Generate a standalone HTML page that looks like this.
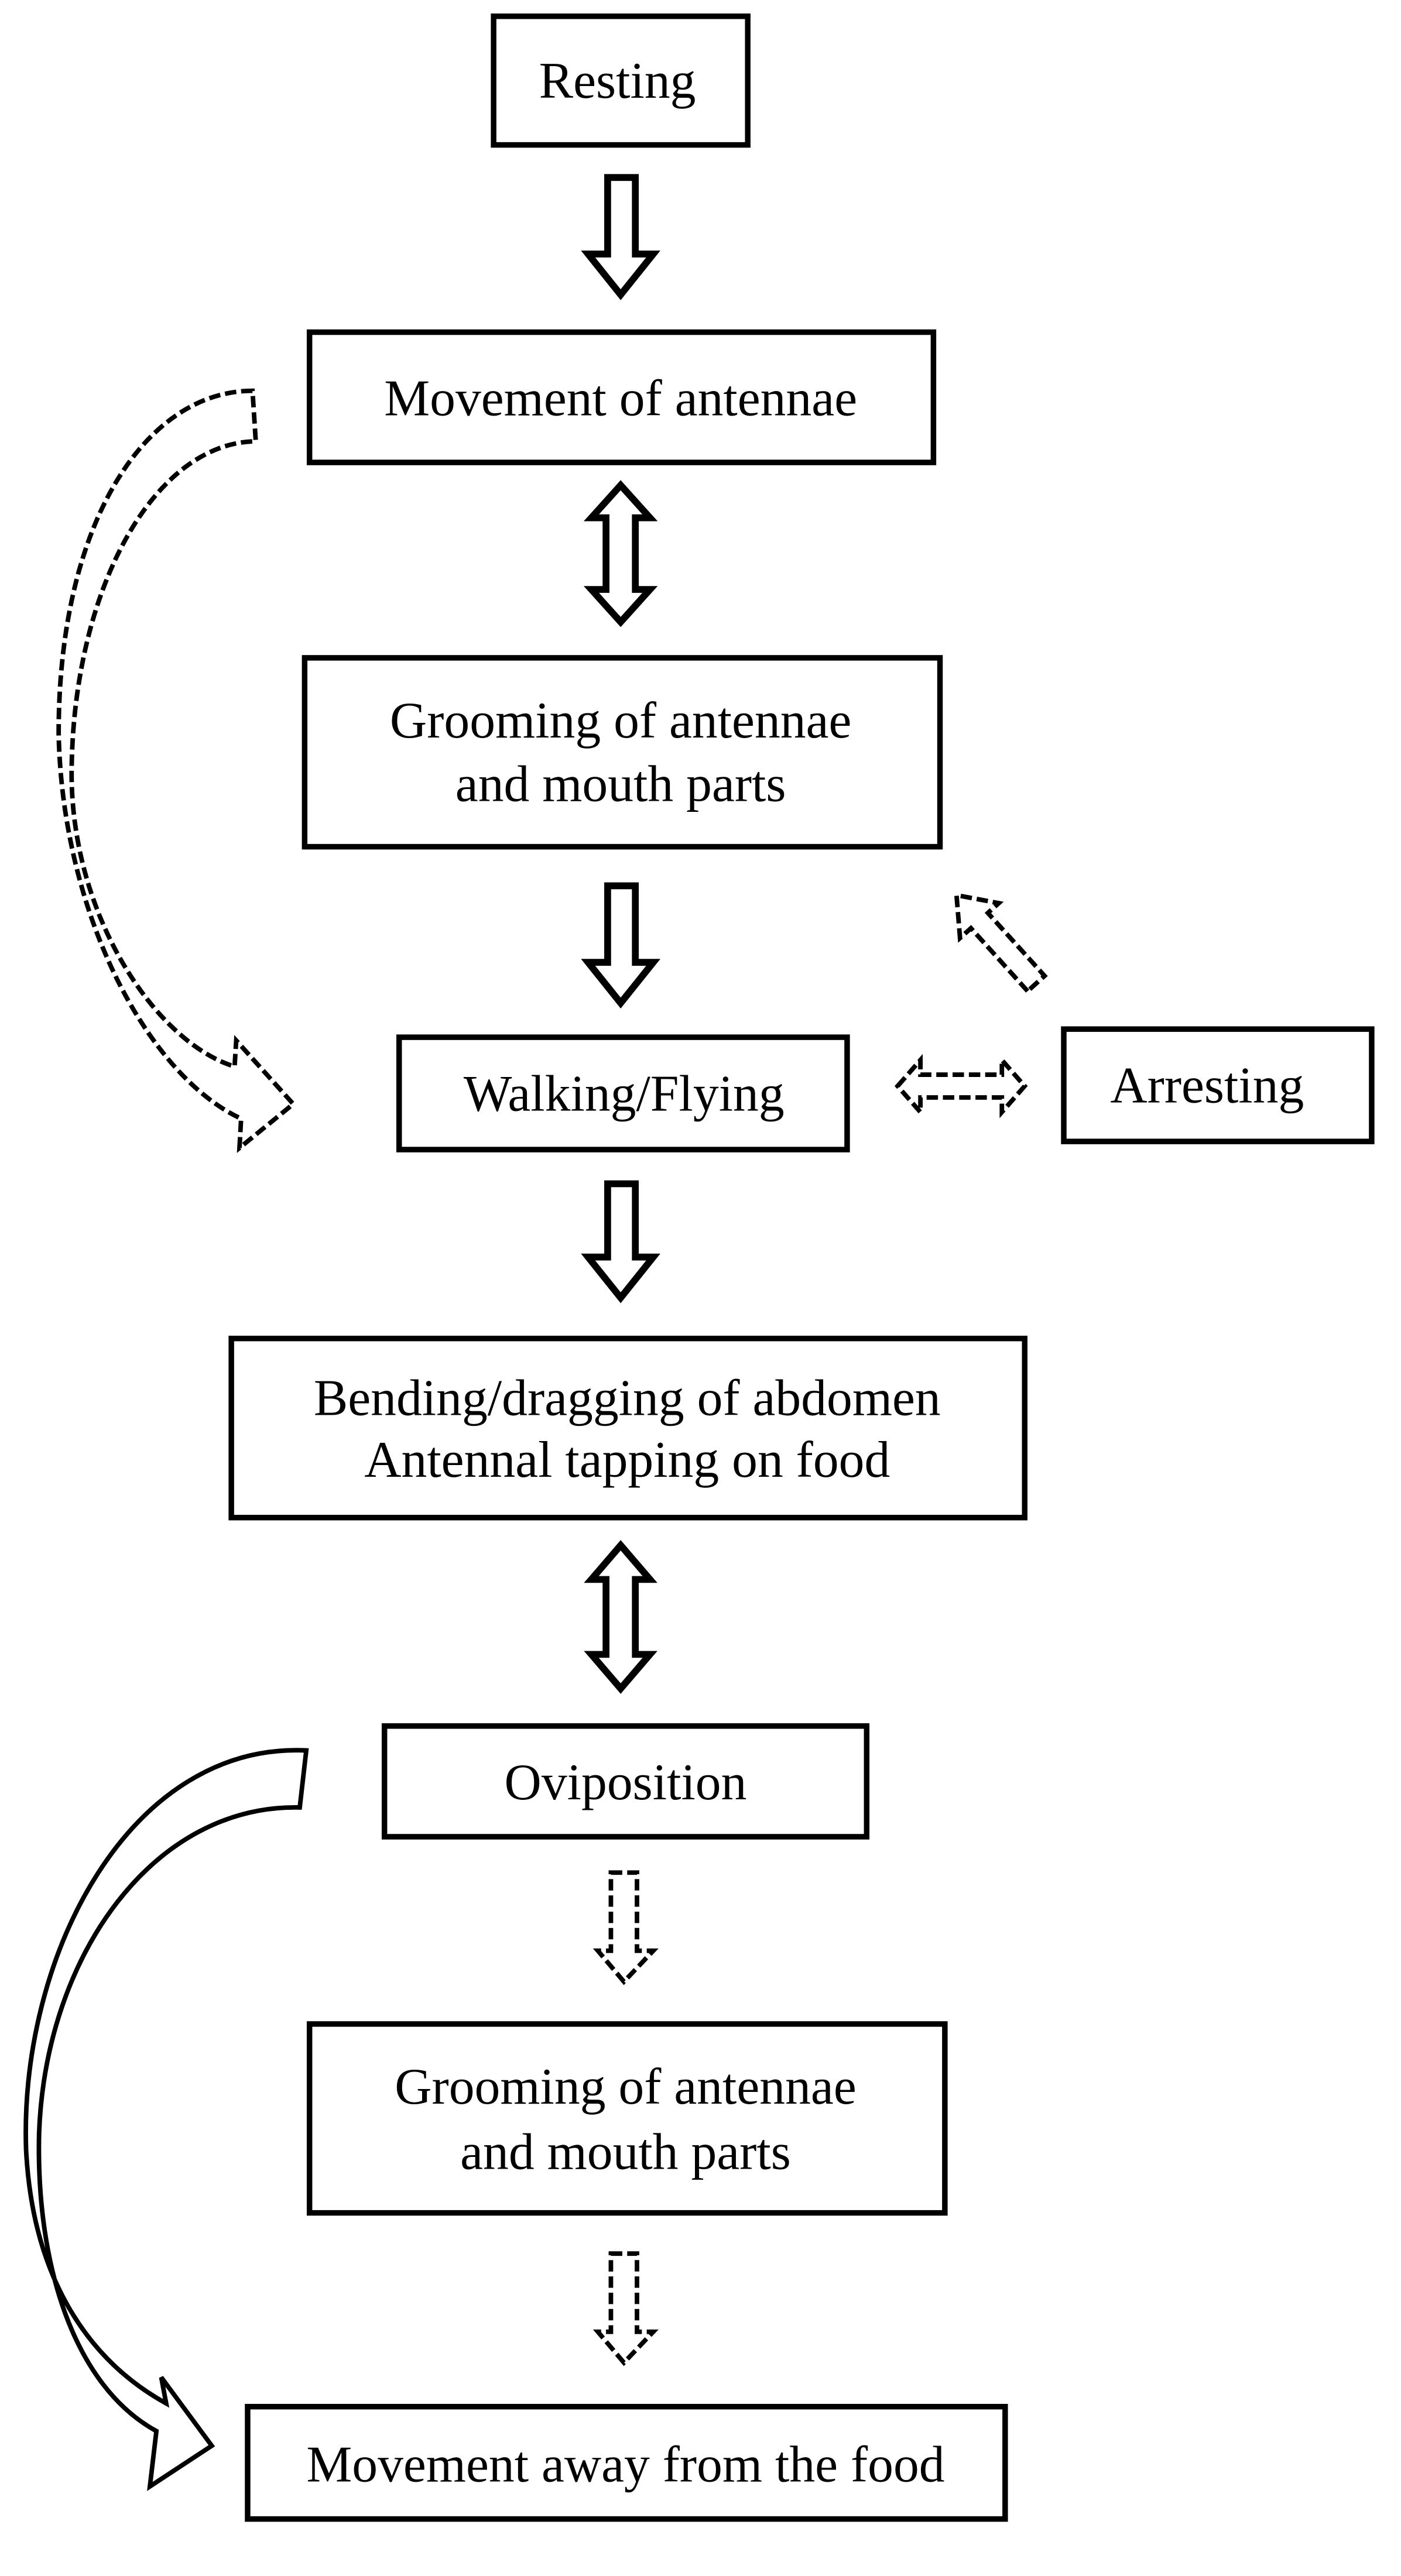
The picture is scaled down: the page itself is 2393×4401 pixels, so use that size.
<!DOCTYPE html>
<html><head><meta charset="utf-8"><style>
html,body{margin:0;padding:0;background:#fff;}
svg{display:block;}
text{font-family:"Liberation Serif",serif;font-size:31.5px;fill:#000;}
</style></head><body>
<svg width="2393" height="4401" viewBox="0 0 860 1582" preserveAspectRatio="none" xmlns="http://www.w3.org/2000/svg">
<g fill="#fff" stroke="#000" stroke-width="3.4">
<rect x="303" y="10" width="156" height="79"/>
<rect x="190" y="204" width="383" height="80"/>
<rect x="187" y="404" width="390" height="116"/>
<rect x="245" y="637" width="275" height="69"/>
<rect x="653" y="632" width="189" height="69"/>
<rect x="142" y="822" width="487" height="110"/>
<rect x="236" y="1060" width="296" height="68"/>
<rect x="190" y="1243" width="390" height="116"/>
<rect x="152" y="1478" width="465" height="69"/>
</g>
<g text-anchor="middle">
<text x="379" y="60">Resting</text>
<text x="381" y="255">Movement of antennae</text>
<text x="381" y="453">Grooming of antennae</text>
<text x="381" y="492">and mouth parts</text>
<text x="383" y="682">Walking/Flying</text>
<text x="741" y="677">Arresting</text>
<text x="385" y="869">Bending/dragging of abdomen</text>
<text x="385" y="907">Antennal tapping on food</text>
<text x="384" y="1105">Oviposition</text>
<text x="384" y="1292">Grooming of antennae</text>
<text x="384" y="1332">and mouth parts</text>
<text x="384" y="1524">Movement away from the food</text>
</g>
<g fill="#fff" stroke="#000" stroke-width="4.2" stroke-linejoin="miter">
<polygon points="373,109 390,109 390,156 401,156 381,181 361,156 373,156"/>
<polygon points="381,298 399,318 390,318 390,362 399,362 381,382 363,362 372,362 372,318 363,318"/>
<polygon points="373,544 390,544 390,591 401,591 381,616 361,591 373,591"/>
<polygon points="373,727 390,727 390,772 401,772 381,797 361,772 373,772"/>
<polygon points="381,949 399,970 390,970 390,1016 399,1016 381,1037 363,1016 372,1016 372,970 363,970"/>
</g>
<g fill="#fff" stroke="#000" stroke-width="2.8" stroke-dasharray="7,3">
<polygon points="375,1150 391,1150 391,1198 401,1198 383,1217 367,1198 375,1198"/>
<polygon points="375,1384 391,1384 391,1432 401,1432 383,1451 367,1432 375,1432"/>
<polygon points="551,667 565,651 565,660 615,660 615,651 629,667 615,683 615,674 565,674 565,683"/>
<g transform="translate(636,604) rotate(-132)">
<polygon points="0,-7 52,-7 52,-16 73,0 52,16 52,7 0,7"/>
</g>
<path d="M155,240 C90,240 36,320 36,450 C38,560 90,660 148,687 L147,705 L180,678 L145,639 L144,655 C95,640 42,560 44,470 C46,360 95,272 157,271 Z"/>
</g>
<path fill="#fff" stroke="#000" stroke-width="2.8" d="M188,1075 C80,1070 12,1200 16,1320 C20,1400 55,1450 102,1476 L99,1460 L130,1502 L92,1527 L96,1493 C45,1465 22,1390 24,1310 C28,1200 95,1108 184,1110 Z"/>
</svg>
</body></html>
